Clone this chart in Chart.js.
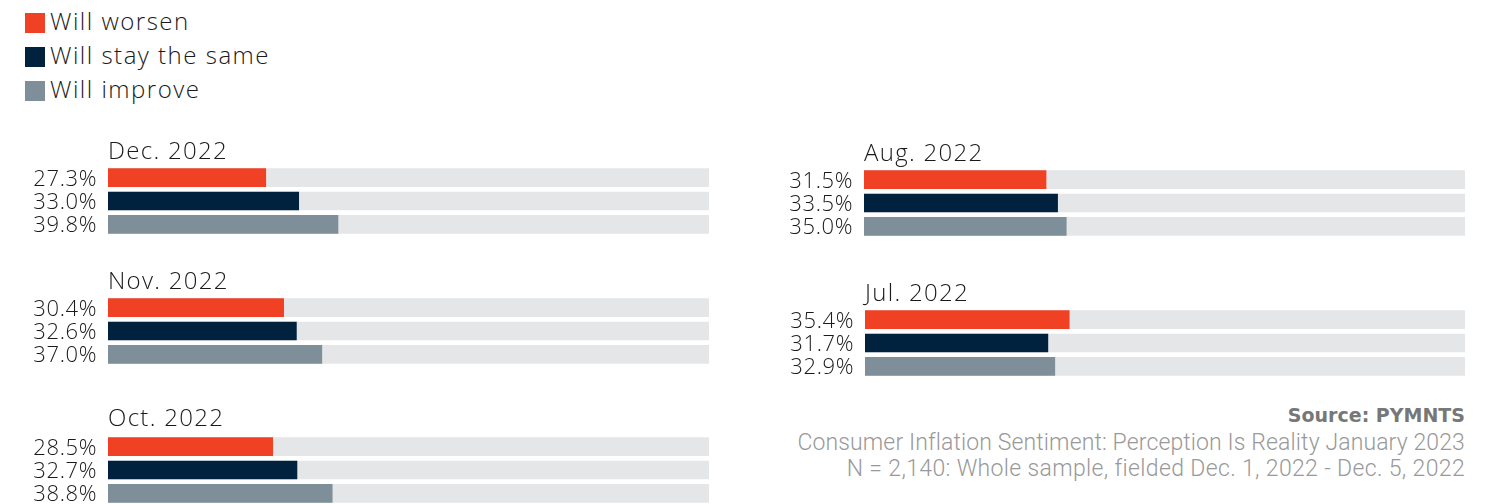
<!DOCTYPE html>
<html><head><meta charset="utf-8">
<script src="https://cdn.jsdelivr.net/npm/chart.js@4.4.1/dist/chart.umd.min.js"></script>
<style>
html,body{margin:0;padding:0;background:#fff;}
body{width:1492px;height:504px;overflow:hidden;position:relative;font-family:'Open Sans',sans-serif;}
.leg{position:absolute;left:25px;height:24px;line-height:24px;font-weight:300;font-size:24px;letter-spacing:1.5px;color:#1a1a1a;white-space:nowrap;}
.leg i{position:absolute;left:0;top:4px;width:20px;height:20px;}
.leg span{position:absolute;left:25px;top:0;}
canvas{position:absolute;}
.src{position:absolute;right:27px;white-space:nowrap;text-align:right;}
#s1{top:404px;font-family:'DejaVu Sans',sans-serif;font-weight:700;font-size:19px;line-height:22px;color:#777;}
#s2,#s3{font-family:'Roboto',sans-serif;font-weight:300;font-size:23px;line-height:26px;color:#999;}
#s2{top:430px;letter-spacing:0.12px;}
#s3{top:456px;letter-spacing:0.35px;}
</style></head>
<body>
<div id="legend"></div>
<div class="src" id="s1">Source: PYMNTS</div>
<div class="src" id="s2">Consumer Inflation Sentiment: Perception Is Reality January 2023</div>
<div class="src" id="s3">N = 2,140: Whole sample, fielded Dec. 1, 2022 - Dec. 5, 2022</div>
<script>
// ---- data ----
const months = ['Dec. 2022', 'Nov. 2022', 'Oct. 2022', 'Aug. 2022', 'Jul. 2022'];
const seriesNames = ['Will worsen', 'Will stay the same', 'Will improve'];
const worsen  = [27.3, 30.4, 28.5, 31.5, 35.4];
const stay    = [33.0, 32.6, 32.7, 33.5, 31.7];
const improve = [39.8, 37.0, 38.8, 35.0, 32.9];

// ---- style ----
const colors = ['#F04124', '#00223E', '#7F8F9A'];
const trackColor = '#E5E6E8';
const AXIS_MAX = 104;
const panels = [
  {left: 0,   chartLeft: 108, chartRight: 709,  chartTop: 166.3, titleGap: 7},
  {left: 0,   chartLeft: 108, chartRight: 709,  chartTop: 296.3, titleGap: 7},
  {left: 0,   chartLeft: 108, chartRight: 709,  chartTop: 435.3, titleGap: 9.5},
  {left: 760, chartLeft: 864, chartRight: 1465, chartTop: 167.5, titleGap: 7.5},
  {left: 760, chartLeft: 865, chartRight: 1465, chartTop: 308.2, titleGap: 6.7}
];
const PAD_TOP = 40, AREA_H = 70;

// legend
const legend = document.getElementById('legend');
seriesNames.forEach((n, i) => {
  const d = document.createElement('div');
  d.className = 'leg';
  d.style.top = (9 + i * 34) + 'px';
  d.innerHTML = '<i style="background:' + colors[i] + '"></i><span></span>';
  d.querySelector('span').textContent = n;
  legend.appendChild(d);
});

const labelPlugin = {
  id: 'panelText',
  afterDatasetsDraw(chart, args, opts) {
    const ctx = chart.ctx, area = chart.chartArea;
    ctx.save();
    ctx.fillStyle = '#1a1a1a';
    try { ctx.letterSpacing = '0.6px'; } catch (e) {}
    ctx.font = '300 22px "Open Sans"';
    ctx.textAlign = 'right';
    ctx.textBaseline = 'alphabetic';
    const meta = chart.getDatasetMeta(0);
    const vals = chart.data.datasets[0].data;
    meta.data.forEach((el, i) => {
      ctx.fillText(vals[i].toFixed(1) + '%', area.left - 11, el.y + 8);
    });
    try { ctx.letterSpacing = '1.3px'; } catch (e) {}
    ctx.font = '300 24px "Open Sans"';
    ctx.textAlign = 'left';
    ctx.fillText(opts.title, area.left, area.top - opts.gap);
    ctx.restore();
  }
};

months.forEach((m, p) => {
  const P = panels[p];
  const cv = document.createElement('canvas');
  const w = P.chartRight - P.left, h = PAD_TOP + AREA_H;
  cv.width = w; cv.height = h;
  cv.style.left = P.left + 'px';
  cv.style.top = (P.chartTop - PAD_TOP) + 'px';
  cv.style.width = w + 'px'; cv.style.height = h + 'px';
  document.body.appendChild(cv);
  new Chart(cv, {
    type: 'bar',
    data: {
      labels: seriesNames,
      datasets: [
        {data: [worsen[p], stay[p], improve[p]], backgroundColor: colors, barThickness: 18, grouped: false, order: 0},
        {data: [AXIS_MAX, AXIS_MAX, AXIS_MAX], backgroundColor: trackColor, barThickness: 18, grouped: false, order: 1}
      ]
    },
    options: {
      indexAxis: 'y',
      responsive: false,
      animation: false,
      devicePixelRatio: 1,
      layout: {padding: {left: P.chartLeft - P.left, top: PAD_TOP, right: 0, bottom: 0}},
      scales: {
        x: {display: false, min: 0, max: AXIS_MAX},
        y: {display: false}
      },
      plugins: {
        legend: {display: false},
        tooltip: {enabled: false},
        panelText: {title: m, gap: P.titleGap}
      }
    },
    plugins: [labelPlugin]
  });
});
</script>
</body></html>
